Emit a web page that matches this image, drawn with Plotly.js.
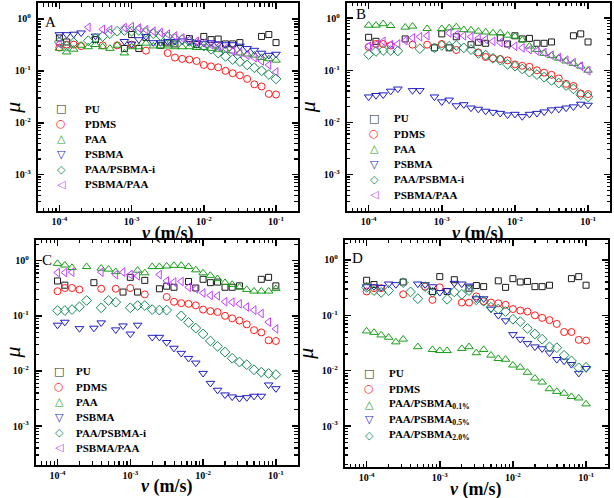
<!DOCTYPE html>
<html>
<head>
<meta charset="utf-8">
<script src="https://cdn.plot.ly/plotly-3.0.1.min.js"></script>
<style>
  html, body { margin: 0; padding: 0; background: #fff; }
  #myDiv { width: 614px; height: 498px; }
</style>
</head>
<body>
<div id="myDiv"></div>
<script>
var _ = null;

// sliding velocity (m/s), 10 points per decade
var velocity = [1.00e-4, 1.26e-4, 1.58e-4, 2.00e-4, 2.51e-4, 3.16e-4, 3.98e-4, 5.01e-4, 6.31e-4, 7.94e-4,
                1.00e-3, 1.26e-3, 1.58e-3, 2.00e-3, 2.51e-3, 3.16e-3, 3.98e-3, 5.01e-3, 6.31e-3, 7.94e-3,
                1.00e-2, 1.26e-2, 1.58e-2, 2.00e-2, 2.51e-2, 3.16e-2, 3.98e-2, 5.01e-2, 6.31e-2, 7.94e-2,
                1.00e-1];

// reference samples, shown in every panel
var pu   = [.43,.36,_,_,_,.40,_,_,_,.27, .50,.27,.44,_,.31,.345,.33,_,.42,.32, .46,.40,.41,.33,.33,.35,_,_,.46,.50, .35];
var pdms = [.28,.32,.32,.30,_,_,.31,_,.31,_, .32,_,.245,_,_,.22,.18,.17,.165,.155, .13,.122,.117,.10,.09,.082,.07,.055,.05,.036, .035];
var pdmsD = [.27,.31,.31,_,_,.24,_,_,.33,.19, .32,_,_,.17,.17,.22,.18,.17,.165,.155, .13,.122,.117,.10,.09,.082,.07,.05,.05,.036, .035];

// panel A
var paaA      = [.27,.23,.26,.31,.29,.32,.29,.27,.31,.22, .29,.29,.34,.30,.30,.30,.29,.29,.29,.28, .28,.27,.26,.25,.24,.22,.21,.20,.18,.17, .16];
var psbmaA    = [.50,.50,.51,.54,_,.47,_,_,_,.37, .33,.40,.46,.35,.35,.37,.37,.38,.37,.35, .34,.35,.33,.32,.32,.30,.27,.25,.22,.20, .21];
var paaPsbmaA = [.36,.30,.35,_,.38,.42,.46,.52,.58,.60, .58,.60,.55,.52,.48,.45,.42,.40,.37,.34, .30,.26,.22,.19,.165,.15,.13,.115,.10,.085, .07];
var psbmaPaaA = [.33,_,_,_,.69,_,.63,.62,_,.68, .71,.67,.62,.58,.55,.51,.47,.43,.40,.37, .34,.32,.29,.27,.24,.22,.20,.18,.155,.13, .095];

// panel B
var paaB      = [.73,.73,.78,.72,_,.67,.70,_,.63,_, .63,.65,.68,.60,.59,.56,.54,.52,.52,.47, .45,.38,.29,.25,.21,.19,.17,.15,.135,.12, .10];
var psbmaB    = [.031,.033,.034,.040,.044,_,.041,.041,_,.031, .025,.027,.021,.022,.019,.018,.0165,.0157,.015,.014, .0144,.013,.0144,.015,.016,.0175,.018,.019,.020,.0225, .0215];
var paaPsbmaB = [.20,.23,.24,.24,.235,_,_,.26,_,.27, .30,.29,.30,.27,.25,.21,.195,.17,.157,.13, .12,.106,.092,.083,.074,.064,.057,.051,.044,.034, .031];
var psbmaPaaB = [.29,.31,.36,.31,.32,.37,.42,.44,.46,_, _,.52,.48,.46,.44,.41,.39,.36,.34,.31, .29,.27,.25,.235,.22,.195,.176,.157,.14,.12, .098];

// panel C
var paaC      = [.89,.83,.75,_,.78,_,.73,.70,.63,_, _,.67,.60,.78,.78,.80,.82,.82,.78,.68, .60,.54,.47,.40,.37,.33,.30,.28,.28,.28, .31];
var psbmaC    = [.068,.077,_,.059,_,.06,.075,_,.056,.066, .047,.068,_,.041,.041,.033,.026,.021,.017,.014, .0091,.006,.0045,.0037,.0034,.0032,.0033,.0035,.0035,.0056, .0048];
var paaPsbmaC = [.125,.125,.13,.146,.19,_,.14,.19,.177,_, .14,.154,.154,.13,.127,.127,_,.10,.076,.06, .047,.035,.028,.022,.017,.0145,.013,.0105,.0095,.009, .0086];
var psbmaPaaC = [.61,.61,.62,_,_,_,.62,_,.56,.62, .56,.53,_,_,.56,.43,.41,.42,.33,.31, .26,.235,.23,.18,.177,.165,.145,.127,.11,.077, .058];

// panel D
var paaPsbma01D = [.052,.049,.044,.04,.033,.037,_,.027,_,.024, .023,.023,_,.025,.027,.021,.024,.019,.0165,.016, .0126,.0115,.0093,.0073,.0062,.0047,.0042,.0039,.0034,.0032, .0025];
var paaPsbma05D = [.33,.33,.32,.37,.36,_,_,.37,.36,.33, .26,.28,.38,.37,.34,.20,.20,.13,.10,.08, .045,.037,.031,.027,.025,.021,.016,.015,.013,.009, .011];
var paaPsbma20D = [.32,.28,.26,.28,_,.39,.265,.20,.33,.26, _,.195,.265,.24,.28,.19,.18,.14,.13,.117, .085,.077,.058,.046,.037,.027,.026,.019,.015,.0113, .0115];

var labelsABC = ['PU', 'PDMS', 'PAA', 'PSBMA', 'PAA/PSBMA-i', 'PSBMA/PAA'];
var labelsD = ['PU', 'PDMS', 'PAA/PSBMA<sub>0.1%</sub>', 'PAA/PSBMA<sub>0.5%</sub>', 'PAA/PSBMA<sub>2.0%</sub>'];

var xTickVals = [1e-4, 1e-3, 1e-2, 1e-1];
var xTickText = ['10<sup>-4</sup>', '10<sup>-3</sup>', '10<sup>-2</sup>', '10<sup>-1</sup>'];
var yTickVals = [1e-3, 1e-2, 1e-1, 1];
var yTickText = ['10<sup>-3</sup>', '10<sup>-2</sup>', '10<sup>-1</sup>', '10<sup>0</sup>'];

var colors = ['#1a1a1a', '#ff1a1a', '#1a9e1a', '#1f1fc0', '#168a55', '#c040ff'];
var symbols = ['square-open', 'circle-open', 'triangle-up-open', 'triangle-down-open', 'diamond-open', 'triangle-left-open'];
var glyphs = ['\u25A1', '\u25CB', '\u25B3', '\u25BD', '\u25C7', '\u25C1'];
var sizes = [6, 7, 7.5, 7.5, 7.5, 7.5];

// minor log ticks 2..9 in every decade
function minorTicks(lo, hi) {
  var t = [];
  for (var d = lo; d <= hi; d++) {
    for (var m = 2; m <= 9; m++) t.push(m * Math.pow(10, d));
  }
  return t;
}

var serif = 'Liberation Serif, Times New Roman, serif';
var W = 614, H = 498;

var panels = [
  {letter: 'A', ys: [pu, pdms, paaA, psbmaA, paaPsbmaA, psbmaPaaA], labels: labelsABC, styles: [0,1,2,3,4,5],
   box: [37.7, 297.7, 3.3, 211], yr: [-3.699, 0.301], leg: [61, 83, 108.5, 15.2], let: [50, 21.7]},
  {letter: 'B', ys: [pu, pdms, paaB, psbmaB, paaPsbmaB, psbmaPaaB], labels: labelsABC, styles: [0,1,2,3,4,5],
   box: [346.7, 610, 2.5, 211], yr: [-3.699, 0.301], leg: [374, 392, 118.5, 15.2], let: [360.7, 14]},
  {letter: 'C', ys: [pu, pdms, paaC, psbmaC, paaPsbmaC, psbmaPaaC], labels: labelsABC, styles: [0,1,2,3,4,5],
   box: [35.7, 297.7, 239.5, 464.7], yr: [-3.70, 0.385], leg: [59.3, 74, 371.3, 15.3], let: [46.7, 259.7]},
  {letter: 'D', ys: [pu, pdmsD, paaPsbma01D, paaPsbma05D, paaPsbma20D], labels: labelsD, styles: [0,1,2,3,4],
   box: [344.7, 608, 239.5, 467], yr: [-3.74, 0.37], leg: [369, 386.7, 373, 15.6], let: [357.3, 258]}
];

var data = [];
var layout = {
  width: W, height: H,
  margin: {l: 0, r: 0, t: 0, b: 0},
  paper_bgcolor: '#fff', plot_bgcolor: '#fff',
  showlegend: false,
  font: {family: serif, color: '#000'},
  annotations: []
};

panels.forEach(function (p, i) {
  var n = i === 0 ? '' : String(i + 1);
  var xa = 'x' + n, ya = 'y' + n;

  p.ys.forEach(function (y, j) {
    var s = p.styles[j];
    data.push({
      x: velocity, y: y,
      xaxis: xa, yaxis: ya,
      type: 'scatter', mode: 'markers',
      name: p.labels[j],
      marker: {symbol: symbols[s], size: sizes[s], color: colors[s], line: {width: 1, color: colors[s]}}
    });
  });

  var common = {
    type: 'log', showline: true, linewidth: 2, linecolor: '#000', mirror: 'allticks',
    ticks: 'inside', ticklen: 6, tickwidth: 1.5, tickcolor: '#000',
    tickmode: 'array',
    showgrid: false, zeroline: false,
    tickfont: {family: serif, size: 10, weight: 'bold', color: '#000'}
  };
  var minorStyle = {tickmode: 'array', ticks: 'inside', ticklen: 3.5, tickwidth: 1.2, tickcolor: '#000', showgrid: false};

  layout['xaxis' + n] = Object.assign({}, common, {
    anchor: ya, range: [-4.3, -0.7],
    domain: [p.box[0] / W, p.box[1] / W],
    tickvals: xTickVals, ticktext: xTickText,
    minor: Object.assign({tickvals: minorTicks(-5, -1)}, minorStyle)
  });
  layout['yaxis' + n] = Object.assign({}, common, {
    anchor: xa, range: p.yr,
    domain: [1 - p.box[3] / H, 1 - p.box[2] / H],
    tickvals: yTickVals, ticktext: yTickText, ticklabelstandoff: 3,
    minor: Object.assign({tickvals: minorTicks(-4, 0)}, minorStyle),
    title: {text: '<i>μ</i>', standoff: 2, font: {family: serif, size: 22}}
  });

  // x axis title, set just under the tick labels
  layout.annotations.push({
    xref: 'paper', yref: 'paper', x: (p.box[0] + p.box[1]) / 2 / W, y: 1 - (p.box[3] + 22) / H,
    xanchor: 'center', yanchor: 'middle', showarrow: false,
    text: '<i>ν</i> (m/s)', font: {family: serif, size: 18, weight: 'bold'}
  });

  // panel letter
  layout.annotations.push({
    xref: 'paper', yref: 'paper', x: p.let[0] / W, y: 1 - p.let[1] / H,
    xanchor: 'center', yanchor: 'middle', showarrow: false,
    text: p.letter, font: {family: serif, size: 15}
  });

  // legend drawn as symbol + label rows
  p.labels.forEach(function (lab, j) {
    var s = p.styles[j];
    var yy = 1 - (p.leg[2] + j * p.leg[3]) / H;
    layout.annotations.push({
      xref: 'paper', yref: 'paper', x: p.leg[0] / W, y: yy,
      xanchor: 'center', yanchor: 'middle', showarrow: false,
      text: glyphs[s], font: {family: 'DejaVu Sans', size: 11, color: colors[s]}
    });
    layout.annotations.push({
      xref: 'paper', yref: 'paper', x: p.leg[1] / W, y: yy,
      xanchor: 'left', yanchor: 'middle', showarrow: false,
      text: lab, font: {family: serif, size: 11, weight: 'bold'}
    });
  });
});

Plotly.newPlot('myDiv', data, layout, {displayModeBar: false, staticPlot: true});
</script>
</body>
</html>
